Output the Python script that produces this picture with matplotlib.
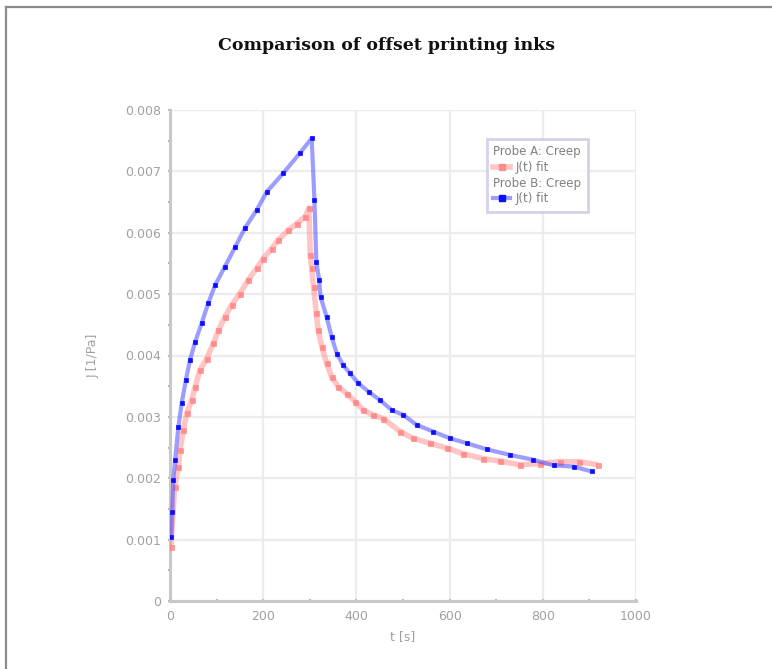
import matplotlib
matplotlib.use("Agg")
import matplotlib.pyplot as plt
from matplotlib.lines import Line2D
from matplotlib.ticker import FuncFormatter, MultipleLocator

# ---------------- data ----------------
# Probe A (red), time [s] and compliance J [1e-3 1/Pa]
probeA_t = [2, 10, 18, 21.5, 28.5, 36, 46.5, 54, 64, 79, 93, 104, 118, 132, 150,
            168, 186, 200, 218, 232, 254, 272, 290, 298,
            301, 304, 308, 314, 318, 326, 336, 347, 361, 379, 397, 415, 436,
            458, 494, 522, 558, 594, 629, 672, 708, 751, 794, 837, 877, 918]
probeA_J = [0.88, 1.85, 2.19, 2.46, 2.78, 3.06, 3.27, 3.49, 3.76, 3.95, 4.20, 4.41, 4.63, 4.82, 5.01,
            5.23, 5.42, 5.58, 5.74, 5.88, 6.04, 6.15, 6.26, 6.40,
            5.63, 5.42, 5.11, 4.69, 4.41, 4.14, 3.87, 3.65, 3.49, 3.38, 3.25, 3.11, 3.03,
            2.97, 2.76, 2.65, 2.57, 2.49, 2.40, 2.32, 2.28, 2.22, 2.24, 2.27, 2.27, 2.22]

# Probe B (blue)
probeB_t = [3, 5, 7, 11, 18, 25, 34, 43, 54, 68, 82, 97, 118, 140, 161, 186, 208, 243, 279, 304,
            310, 314, 320, 323, 336, 347, 358, 372, 386, 404, 426, 451, 476, 501,
            529, 565, 601, 637, 680, 730, 780, 823, 866, 905]
probeB_J = [1.04, 1.45, 1.97, 2.30, 2.84, 3.22, 3.60, 3.93, 4.22, 4.53, 4.85, 5.15, 5.45, 5.77, 6.08, 6.37, 6.67, 6.97, 7.30, 7.54,
            6.53, 5.53, 5.23, 4.96, 4.63, 4.30, 4.03, 3.84, 3.71, 3.55, 3.41, 3.27, 3.11, 3.03,
            2.87, 2.76, 2.65, 2.57, 2.47, 2.38, 2.30, 2.21, 2.19, 2.11]

labelA_head, labelA_fit = "Probe A: Creep", "J(t) fit"
labelB_head, labelB_fit = "Probe B: Creep", "J(t) fit"
title = "Comparison of offset printing inks"
xlabel = "t [s]"
ylabel = "J [1/Pa]"

RED_LINE = (1.0, 0.55, 0.55, 0.5)
RED_MARK = (1.0, 0.5, 0.5, 0.8)
BLUE_LINE = (0.3, 0.3, 1.0, 0.55)
BLUE_MARK = (0.05, 0.05, 1.0, 1.0)

# ---------------- figure ----------------
fig = plt.figure(figsize=(7.72, 6.69), dpi=100)
fig.patch.set_facecolor("white")

# outer frame (left and top edges)
fig.add_artist(Line2D([6/772, 6/772], [0, 1 - 7/669], transform=fig.transFigure,
                      color="#8c8c8c", lw=1.6))
fig.add_artist(Line2D([6/772, 1], [1 - 7/669, 1 - 7/669], transform=fig.transFigure,
                      color="#8c8c8c", lw=1.6))

fig.text(387/772, 1 - 45/669, title, ha="center", va="center",
         fontsize=12.5, fontweight="bold", family="DejaVu Serif", color="#111111")

ax = fig.add_axes([170/772, 1 - 601/669, 466/772, 491/669])

tA = probeA_t
JA = [v * 1e-3 for v in probeA_J]
tB = probeB_t
JB = [v * 1e-3 for v in probeB_J]

ax.plot(tA, JA, color=RED_LINE, lw=4.0, marker="s", markersize=3.6,
        markerfacecolor=RED_MARK, markeredgecolor=RED_MARK,
        markeredgewidth=0.5, zorder=3, solid_capstyle="butt")
ax.plot(tB, JB, color=BLUE_LINE, lw=3.0, marker="s", markersize=3.2,
        markerfacecolor=BLUE_MARK, markeredgecolor=BLUE_MARK,
        markeredgewidth=0.5, zorder=4, solid_capstyle="butt")

ax.set_xlim(0, 1000)
ax.set_ylim(0, 0.008)
ax.xaxis.set_major_locator(MultipleLocator(200))
ax.xaxis.set_minor_locator(MultipleLocator(100))
ax.yaxis.set_major_locator(MultipleLocator(0.001))
ax.yaxis.set_minor_locator(MultipleLocator(0.0005))
ax.yaxis.set_major_formatter(FuncFormatter(lambda v, p: "0" if abs(v) < 1e-12 else f"{v:.3f}"))
ax.xaxis.set_major_formatter(FuncFormatter(lambda v, p: f"{v:.0f}"))

ax.grid(True, which="major", color="#ececec", lw=1.6)
ax.set_axisbelow(True)
for s in ["top", "right"]:
    ax.spines[s].set_visible(False)
for s in ["left", "bottom"]:
    ax.spines[s].set_color("#c8c8c8")
    ax.spines[s].set_linewidth(2.2)

ax.tick_params(which="major", length=3, width=1.5, color="#b8b8b8",
               labelsize=9, labelcolor="#a0a0a0", pad=5, direction="inout")
ax.tick_params(which="minor", length=3, width=1.5, color="#b0b0b0", direction="inout")

ax.set_xlabel(xlabel, fontsize=9, color="#a0a0a0", labelpad=5)
ax.set_ylabel(ylabel, fontsize=9, color="#a0a0a0", labelpad=18)

# legend
blank = Line2D([], [], linestyle="none", marker=None)
hA = Line2D([], [], color=RED_LINE, lw=4, marker="s", markersize=4.5,
            markerfacecolor=RED_MARK, markeredgecolor=RED_MARK)
hB = Line2D([], [], color=BLUE_LINE, lw=3, marker="s", markersize=4,
            markerfacecolor=BLUE_MARK, markeredgecolor=BLUE_MARK)
leg = ax.legend([blank, hA, blank, hB], [labelA_head, labelA_fit, labelB_head, labelB_fit],
                loc="upper left", bbox_to_anchor=((487 - 170) / 466, (601 - 139) / 491),
                fontsize=8.5, frameon=True, fancybox=False, handlelength=1.4,
                handletextpad=0.5, labelspacing=0.22, borderpad=0.55, borderaxespad=0,
                labelcolor="#808080")
leg.get_frame().set_edgecolor("#c8c8e4")
leg.get_frame().set_linewidth(2)

# header rows of the legend start at the left edge (no handle space)
try:
    rows = leg._legend_handle_box.get_children()[0].get_children()
    for i in (0, 2):
        hp = rows[i]
        hp.get_children()[0].width = 0
        hp.sep = 0
except Exception:
    pass

fig.savefig("out.png", dpi=100)
